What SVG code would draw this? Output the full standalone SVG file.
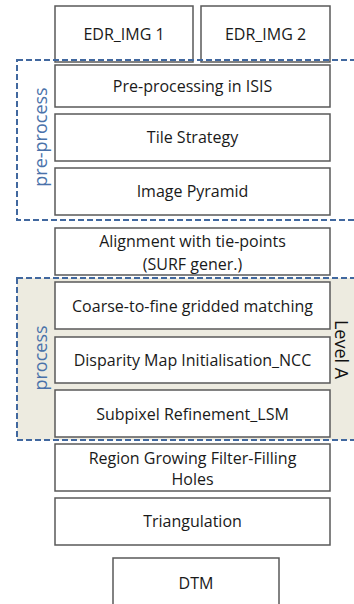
<svg xmlns="http://www.w3.org/2000/svg" width="354" height="604" viewBox="0 0 354 604">
<style>
.box{fill:#fff;stroke:#595959;stroke-width:1.5}
.t{font-family:"Open Sans","Liberation Sans",sans-serif;font-size:16px;fill:#1a1a1a;text-anchor:middle}
.grp{fill:none;stroke:#41689f;stroke-width:2;stroke-dasharray:6,3}
.gl{font-family:"Open Sans","Liberation Sans",sans-serif;font-size:18px;fill:#4a72aa;text-anchor:middle}
</style>
<rect x="17" y="278" width="340" height="162" fill="#edebe0"/>
<g id="edr1"><rect class="box" x="55" y="6" width="138" height="56"/><text class="t" x="124" y="39.5">EDR_IMG 1</text></g>
<g id="edr2"><rect class="box" x="201" y="6" width="129" height="56"/><text class="t" x="265.5" y="39.5">EDR_IMG 2</text></g>
<g id="isis"><rect class="box" x="55" y="65" width="275" height="42"/><text class="t" x="192.5" y="91.5">Pre-processing in ISIS</text></g>
<g id="tile"><rect class="box" x="55" y="114" width="275" height="47"/><text class="t" x="192.5" y="143">Tile Strategy</text></g>
<g id="pyramid"><rect class="box" x="55" y="168" width="275" height="47"/><text class="t" x="192.5" y="197">Image Pyramid</text></g>
<g id="align"><rect class="box" x="55" y="228" width="275" height="47"/><text class="t" x="192.5" y="247">Alignment with tie-points</text><text class="t" x="192.5" y="270">(SURF gener.)</text></g>
<g id="coarse"><rect class="box" x="55" y="282" width="275" height="47"/><text class="t" x="192.5" y="312">Coarse-to-fine gridded matching</text></g>
<g id="disparity"><rect class="box" x="55" y="337" width="275" height="46"/><text class="t" x="192.5" y="366">Disparity Map Initialisation_NCC</text></g>
<g id="subpixel"><rect class="box" x="55" y="390" width="275" height="47"/><text class="t" x="192.5" y="419.5">Subpixel Refinement_LSM</text></g>
<g id="region"><rect class="box" x="55" y="444" width="275" height="47"/><text class="t" x="192.5" y="463.5">Region Growing Filter-Filling</text><text class="t" x="192.5" y="484.5">Holes</text></g>
<g id="triang"><rect class="box" x="55" y="498" width="275" height="47"/><text class="t" x="192.5" y="527">Triangulation</text></g>
<g id="dtm"><rect class="box" x="113" y="558" width="166" height="50"/><text class="t" x="196" y="588.5">DTM</text></g>
<g id="preprocess"><rect class="grp" x="17" y="60" width="345" height="160"/><text class="gl" transform="translate(47,137) rotate(-90)">pre-process</text></g>
<g id="process"><rect class="grp" x="17" y="278" width="345" height="162"/><text class="gl" transform="translate(47,358) rotate(-90)">process</text></g>
<g id="levelA"><text class="t" style="font-size:18px;fill:#111" transform="translate(335,349.5) rotate(90)">Level A</text></g>
<g id="connectors"></g>
</svg>
